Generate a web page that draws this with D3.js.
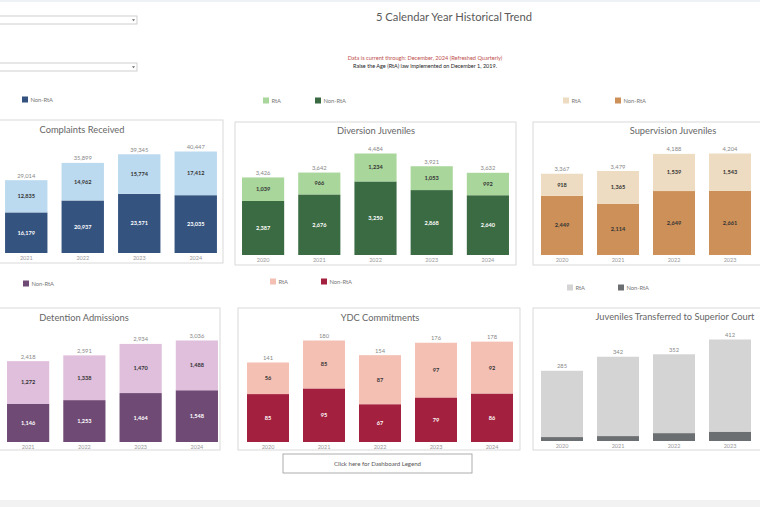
<!DOCTYPE html>
<html>
<head>
<meta charset="utf-8">
<script src="https://cdn.jsdelivr.net/npm/d3@7"></script>
<style>
  body { margin: 0; background: #fff; }
  svg { display: block; font-family: Lato, "Open Sans", sans-serif; }
</style>
</head>
<body>
<div id="chart"></div>
<script>

// data
const complaintsYears = ['2021', '2022', '2023', '2024'];
const complaintsNonRta = [16179, 20937, 23571, 23035];
const complaintsRta = [12835, 14962, 15774, 17412];

const diversionYears = ['2020', '2021', '2022', '2023', '2024'];
const diversionNonRta = [2387, 2676, 3250, 2868, 2640];
const diversionRta = [1039, 966, 1234, 1053, 992];

const supervisionYears = ['2020', '2021', '2022', '2023'];
const supervisionNonRta = [2449, 2114, 2649, 2661];
const supervisionRta = [918, 1365, 1539, 1543];

const detentionYears = ['2021', '2022', '2023', '2024'];
const detentionNonRta = [1146, 1253, 1464, 1548];
const detentionRta = [1272, 1338, 1470, 1488];

const ydcYears = ['2020', '2021', '2022', '2023', '2024'];
const ydcNonRta = [85, 95, 67, 79, 86];
const ydcRta = [56, 85, 87, 97, 92];

const transferYears = ['2020', '2021', '2022', '2023'];
const transferNonRta = [16, 20, 32, 38];
const transferRta = [269, 322, 320, 374];

const fmt = d3.format(',');

let dimensions = { width: 760, height: 507 };

const svg = d3.select('#chart').append('svg')
    .attr('width', dimensions.width)
    .attr('height', dimensions.height);

// top and bottom strips of the viewer
svg.append('rect').attr('x', 0).attr('y', 0).attr('width', 760).attr('height', 2).style('fill', '#eef1f5');
svg.append('rect').attr('x', 0).attr('y', 500).attr('width', 760).attr('height', 7).style('fill', '#f2f2f2');

// dropdown filters (top left)
[16, 63].forEach(y => {
    svg.append('rect')
        .attr('x', -2).attr('y', y).attr('width', 139).attr('height', 8)
        .style('fill', '#fff').style('stroke', '#c4c4c4').style('stroke-width', 0.8);
    svg.append('path')
        .attr('d', `M132,${y + 3.3} l3,0 l-1.5,2 z`)
        .style('fill', '#666');
});

// header text
svg.append('text')
    .attr('x', 454).attr('y', 21)
    .attr('text-anchor', 'middle')
    .style('font-size', '11.2px')
    .style('fill', '#5a5a5a')
    .text('5 Calendar Year Historical Trend');

svg.append('text')
    .attr('x', 425).attr('y', 59.8)
    .attr('text-anchor', 'middle')
    .style('font-size', '5.6px')
    .style('fill', '#c0504d')
    .text('Data is current through: December, 2024 (Refreshed Quarterly)');

svg.append('text')
    .attr('x', 425).attr('y', 67.5)
    .attr('text-anchor', 'middle')
    .style('font-size', '5.5px')
    .style('fill', '#222')
    .text('Raise the Age (RtA) law implemented on December 1, 2019.');

// button
svg.append('rect')
    .attr('x', 283).attr('y', 454).attr('width', 189).attr('height', 19)
    .style('fill', '#fff').style('stroke', '#9a9a9a').style('stroke-width', 0.8);
svg.append('text')
    .attr('x', 377.5).attr('y', 466)
    .attr('text-anchor', 'middle')
    .style('font-size', '6.1px')
    .style('fill', '#555')
    .text('Click here for Dashboard Legend');


function drawLegend(items) {
    items.forEach(it => {
        svg.append('rect')
            .attr('x', it.x).attr('y', it.y - 3.5)
            .attr('width', 6).attr('height', 6)
            .style('fill', it.color);
        svg.append('text')
            .attr('x', it.x + 8.5).attr('y', it.y + 2)
            .style('font-size', '5.8px')
            .style('fill', '#777')
            .text(it.label);
    });
}

function drawStacked(cfg) {
    const { box, years, nonRta, rta, colors, title, titleX, titleY, x0, x1, base, showSeg } = cfg;

    const g = svg.append('g');

    g.append('rect')
        .attr('x', box[0]).attr('y', box[1])
        .attr('width', box[2] - box[0]).attr('height', box[3] - box[1])
        .style('fill', '#fff')
        .style('stroke', '#d9d9d9')
        .style('stroke-width', 1);

    g.append('text')
        .attr('x', titleX).attr('y', titleY)
        .attr('text-anchor', 'middle')
        .style('font-size', '9.3px')
        .style('fill', '#666')
        .text(title);

    const rows = years.map((y, i) => ({ year: y, non: nonRta[i], rta: rta[i], total: nonRta[i] + rta[i] }));

    const xScale = d3.scaleBand()
        .domain(years)
        .range([x0, x1])
        .paddingInner(0.25)
        .paddingOuter(0.125);

    const yScale = d3.scaleLinear()
        .domain([0, d3.max(rows, d => d.total)])
        .range([base, base - 101.5]);

    const stack = d3.stack().keys(['non', 'rta'])(rows);

    stack.forEach((layer, li) => {
        g.selectAll(null)
            .data(layer)
            .join('rect')
            .attr('x', d => xScale(d.data.year))
            .attr('width', xScale.bandwidth())
            .attr('y', d => yScale(d[1]))
            .attr('height', d => yScale(d[0]) - yScale(d[1]))
            .style('fill', colors[li]);

        if (showSeg) {
            g.selectAll(null)
                .data(layer)
                .join('text')
                .attr('x', d => xScale(d.data.year) + xScale.bandwidth() / 2)
                .attr('y', d => (yScale(d[0]) + yScale(d[1])) / 2 + 2)
                .attr('text-anchor', 'middle')
                .style('font-size', '5.6px')
                .style('font-weight', 'bold')
                .style('fill', cfg.segText[li])
                .text(d => fmt(d[1] - d[0]));
        }
    });

    // totals
    g.selectAll(null)
        .data(rows)
        .join('text')
        .attr('x', d => xScale(d.year) + xScale.bandwidth() / 2)
        .attr('y', d => yScale(d.total) - 2.5)
        .attr('text-anchor', 'middle')
        .style('font-size', '5.8px')
        .style('fill', '#888')
        .text(d => fmt(d.total));

    // year labels (axis)
    const axis = g.append('g')
        .attr('transform', `translate(0,${base})`)
        .call(d3.axisBottom(xScale).tickSize(0).tickPadding(3.5));
    axis.select('.domain').remove();
    axis.selectAll('text')
        .style('font-size', '5.5px')
        .style('font-family', 'Lato, sans-serif')
        .style('fill', '#999');
}

// Complaints Received
drawLegend([{ x: 22, y: 100, color: '#34527f', label: 'Non-RtA' }]);
drawStacked({
    box: [-5, 120, 223, 263], title: 'Complaints Received', titleX: 82, titleY: 133,
    years: complaintsYears, nonRta: complaintsNonRta, rta: complaintsRta,
    colors: ['#34537f', '#bcdaef'], segText: ['#fff', '#333'],
    x0: -2, x1: 224, base: 253, showSeg: true
});

// Diversion Juveniles
drawLegend([
    { x: 263, y: 101, color: '#a9d69b', label: 'RtA' },
    { x: 315, y: 101, color: '#3a6a41', label: 'Non-RtA' }
]);
drawStacked({
    box: [235, 122, 516, 265], title: 'Diversion Juveniles', titleX: 376, titleY: 134,
    years: diversionYears, nonRta: diversionNonRta, rta: diversionRta,
    colors: ['#3b6b42', '#a9d69b'], segText: ['#fff', '#333'],
    x0: 235, x1: 516, base: 255, showSeg: true
});

// Supervision Juveniles
drawLegend([
    { x: 563, y: 101, color: '#eddcc1', label: 'RtA' },
    { x: 615, y: 101, color: '#cc9058', label: 'Non-RtA' }
]);
drawStacked({
    box: [533, 122, 770, 265], title: 'Supervision Juveniles', titleX: 673, titleY: 134,
    years: supervisionYears, nonRta: supervisionNonRta, rta: supervisionRta,
    colors: ['#cc9058', '#eddcc1'], segText: ['#333', '#333'],
    x0: 534, x1: 758, base: 255, showSeg: true
});

// Detention Admissions
drawLegend([{ x: 23, y: 284, color: '#6f4a74', label: 'Non-RtA' }]);
drawStacked({
    box: [-5, 308, 220, 450], title: 'Detention Admissions', titleX: 84, titleY: 321,
    years: detentionYears, nonRta: detentionNonRta, rta: detentionRta,
    colors: ['#6f4a74', '#e0bfdd'], segText: ['#fff', '#333'],
    x0: 0, x1: 225, base: 442, showSeg: true
});

// YDC Commitments
drawLegend([
    { x: 270, y: 282, color: '#f3c0b3', label: 'RtA' },
    { x: 321, y: 282, color: '#a3213e', label: 'Non-RtA' }
]);
drawStacked({
    box: [238, 308, 520, 450], title: 'YDC Commitments', titleX: 380, titleY: 321,
    years: ydcYears, nonRta: ydcNonRta, rta: ydcRta,
    colors: ['#a3213e', '#f3c0b3'], segText: ['#fff', '#333'],
    x0: 240, x1: 520, base: 442, showSeg: true
});

// Juveniles Transferred to Superior Court
drawLegend([
    { x: 567, y: 288, color: '#d4d4d4', label: 'RtA' },
    { x: 618, y: 288, color: '#6c6f71', label: 'Non-RtA' }
]);
drawStacked({
    box: [533, 308, 770, 450], title: 'Juveniles Transferred to Superior Court', titleX: 675, titleY: 320,
    years: transferYears, nonRta: transferNonRta, rta: transferRta,
    colors: ['#6c6f71', '#d4d4d4'], segText: ['#fff', '#333'],
    x0: 534, x1: 758, base: 441, showSeg: false
});

</script>
</body>
</html>
